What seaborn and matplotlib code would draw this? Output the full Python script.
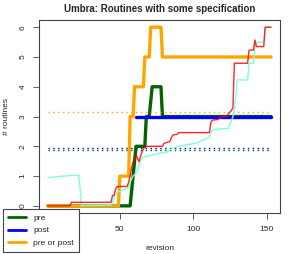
import pandas as pd
import seaborn as sns
import matplotlib
matplotlib.use('Agg')
import matplotlib.pyplot as plt

# step curves (revision, count)
pre_rev = [1, 57, 59, 61, 67, 68, 70, 72, 78, 79, 153]
pre_val = [0, 0, 1, 2, 2, 3, 3, 4, 4, 3, 3]

post_rev = [61, 153]
post_val = [3, 3]

both_rev = [1, 49, 50, 56, 57, 59, 60, 66, 67, 70, 71, 78, 79, 153]
both_val = [0, 0, 1, 1, 3, 3, 4, 4, 5, 5, 6, 6, 5, 5]

# mean levels (dotted)
pre_mean = 1.86
post_mean = 1.94
both_mean = 3.16

# thin curves
red_rev = [1, 16, 17, 44, 45, 46, 47, 48, 55, 56, 57, 58, 59, 60, 61, 62, 63, 64, 65, 66, 68,
           79, 80, 84, 85, 86, 89, 90, 111, 112, 113, 117, 118, 123, 124, 126, 127, 128,
           137, 138, 141, 142, 143, 148, 149, 153]
red_val = [0, 0, 0.12, 0.12, 0.35, 0.35, 0.55, 0.65, 0.65, 0.8, 1.02, 1.28, 1.48, 1.55, 1.72, 1.6, 1.48, 1.65, 1.8, 1.92, 2.0,
           2.0, 2.1, 2.16, 2.28, 2.38, 2.4, 2.46, 2.46, 2.8, 2.88, 2.9, 2.98, 3.0, 3.1, 3.2, 3.3, 4.79,
           4.79, 5.23, 5.23, 5.57, 5.35, 5.35, 6.0, 6.0]

aqua_rev = [1, 16, 22, 24, 44, 45, 46, 47, 48, 50, 55, 56, 57, 58, 59, 60, 61, 62, 63, 64, 65, 67,
            72, 77, 82, 86, 90, 95, 102, 106, 110, 111, 112, 113, 117, 124, 125, 126, 127, 128,
            129, 130, 137, 138, 141, 142, 143, 148, 149, 153]
aqua_val = [0.95, 1.02, 1.03, 0.01, 0.03, 0.1, 0.25, 0.35, 0.45, 0.5, 0.59, 0.6, 0.8, 0.9, 1.0, 1.05, 1.1, 1.2, 1.3, 1.5, 1.6, 1.65,
            1.71, 1.77, 1.8, 1.94, 2.0, 2.05, 2.1, 2.2, 2.28, 2.32, 2.45, 2.55, 2.58, 2.6, 2.75, 2.85, 3.0, 3.25,
            3.7, 4.23, 4.23, 4.79, 4.79, 5.35, 5.48, 5.5, 6.0, 6.0]

xticks = [0, 50, 100, 150]
xticklabels = ['', '50', '100', '150']  # "0" sits under the legend
yticks = [0, 1, 2, 3, 4, 5, 6]

sns.set_style('white')
plt.rcParams['font.family'] = ['Liberation Sans', 'DejaVu Sans']

fig = plt.figure(figsize=(2.94, 2.54), dpi=100)
ax = fig.add_axes([0.1327, 0.1614, 0.8197, 0.7596])

thick = 2.4
sns.lineplot(x=pre_rev, y=pre_val, color='darkgreen', lw=thick, estimator=None, sort=False, ax=ax, label='pre')
sns.lineplot(x=post_rev, y=post_val, color='blue', lw=thick, estimator=None, sort=False, ax=ax, label='post')
sns.lineplot(x=both_rev, y=both_val, color='orange', lw=thick, estimator=None, sort=False, ax=ax, label='pre or post')

for m, c in [(pre_mean, 'darkgreen'), (post_mean, 'blue'), (both_mean, 'orange')]:
    sns.lineplot(x=[1, 153], y=[m, m], color=c, lw=1, linestyle=(0, (1, 2.5)), ax=ax, legend=False)

sns.lineplot(x=aqua_rev, y=aqua_val, color='aquamarine', lw=1, estimator=None, sort=False, ax=ax, legend=False)
sns.lineplot(x=red_rev, y=red_val, color='red', lw=1, alpha=0.85, estimator=None, sort=False, ax=ax, legend=False)

ax.set_xlim(-5.08, 159.08)
ax.set_ylim(-0.24, 6.24)
ax.set_xticks(xticks)
ax.set_xticklabels(xticklabels)
ax.set_yticks(yticks)
ax.set_yticklabels([str(v) for v in yticks], rotation=90, va='center')
ax.tick_params(axis='both', labelsize=6, length=4, width=0.6, color='#444444',
               bottom=True, left=True, direction='out')
ax.tick_params(axis='x', pad=5)
ax.tick_params(axis='y', pad=5)
for s in ax.spines.values():
    s.set_color('#444444')
    s.set_linewidth(0.8)
ax.set_xlabel('revision', fontsize=6, labelpad=9)
ax.set_ylabel('# routines', fontsize=6, labelpad=7)
ax.set_title('Umbra: Routines with some specification', fontsize=7, fontweight='bold', pad=6)

h, l = ax.get_legend_handles_labels()
ax.get_legend().remove()
leg = fig.legend(h, l, loc='lower left', bbox_to_anchor=(-0.004, -0.008), fontsize=6,
                 frameon=True, fancybox=False, edgecolor='#444444', framealpha=1,
                 handlelength=2.2, borderpad=0.6, labelspacing=0.55, handletextpad=0.8)
leg.get_frame().set_linewidth(0.8)
for ln in leg.get_lines():
    ln.set_linewidth(2)

fig.savefig('out.png', dpi=100)
